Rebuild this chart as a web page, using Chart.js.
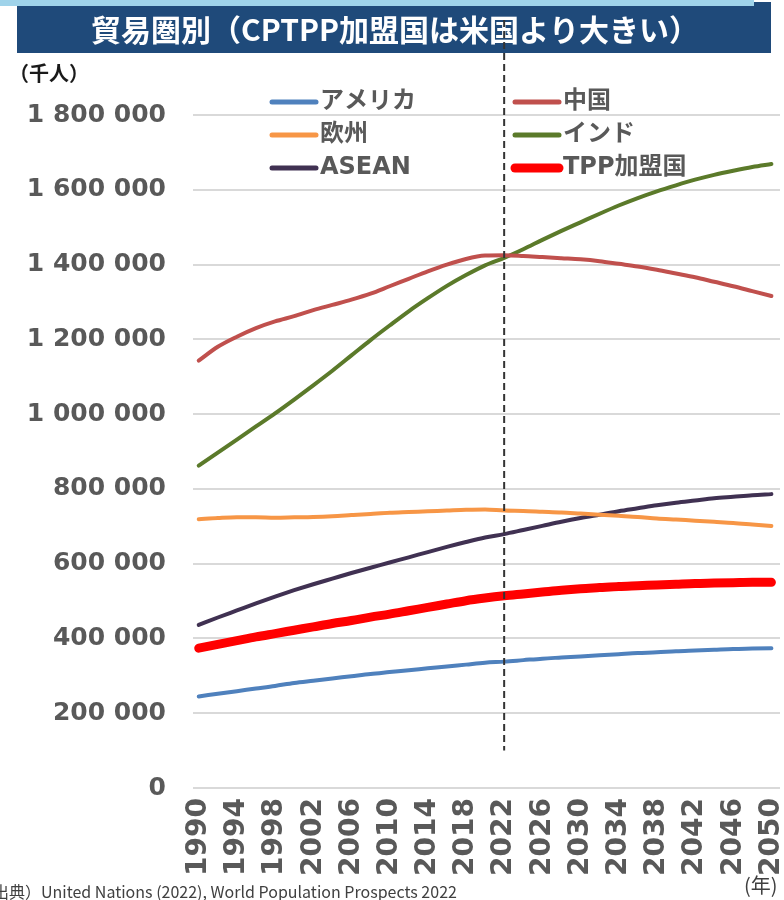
<!DOCTYPE html>
<html lang="ja">
<head>
<meta charset="utf-8">
<script src="https://cdn.jsdelivr.net/npm/chart.js@4"></script>
<style>
  html, body { margin: 0; padding: 0; background: #ffffff; }
  #wrap { width: 784px; height: 900px; position: relative; }
</style>
</head>
<body>
<div id="wrap"><canvas id="c" width="784" height="900"></canvas></div>
<script>
// 人口推計（千人）、2年ごと
const years = [1990, 1992, 1994, 1996, 1998, 2000, 2002, 2004, 2006, 2008,
               2010, 2012, 2014, 2016, 2018, 2020, 2022, 2024, 2026, 2028,
               2030, 2032, 2034, 2036, 2038, 2040, 2042, 2044, 2046, 2048, 2050];

const usa    = [245000, 252000, 259000, 266000, 273000, 281000, 287000, 293000, 299000, 305000,
                310000, 315000, 320000, 325000, 330000, 335000, 338000, 342000, 346000, 349000,
                352000, 355000, 358000, 361000, 363000, 366000, 368000, 370000, 372000, 373000, 374000];
const china  = [1143000, 1180000, 1207000, 1230000, 1248000, 1262000, 1278000, 1292000, 1306000, 1322000,
                1342000, 1362000, 1382000, 1400000, 1415000, 1424000, 1425000, 1423000, 1420000, 1417000,
                1414000, 1409000, 1402000, 1395000, 1386000, 1376000, 1366000, 1354000, 1342000, 1329000, 1316000];
const europe = [719000, 722000, 724000, 724000, 723000, 724000, 725000, 727000, 730000, 733000,
                736000, 738000, 740000, 742000, 744000, 745000, 742000, 741000, 739000, 737000,
                734000, 731000, 728000, 725000, 721000, 718000, 715000, 712000, 709000, 705000, 701000];
const india  = [862000, 897000, 932000, 967000, 1002000, 1039000, 1077000, 1116000, 1157000, 1198000,
                1237000, 1275000, 1310000, 1343000, 1372000, 1398000, 1418000, 1441000, 1466000, 1490000,
                1513000, 1536000, 1558000, 1578000, 1596000, 1612000, 1627000, 1640000, 1651000, 1661000, 1669000];
const asean  = [436000, 456000, 475000, 494000, 512000, 529000, 545000, 560000, 575000, 589000,
                603000, 617000, 631000, 645000, 658000, 670000, 679000, 690000, 701000, 712000,
                722000, 731000, 740000, 748000, 756000, 763000, 769000, 775000, 779000, 783000, 786000];
const tpp    = [374000, 384000, 394000, 404000, 413000, 422000, 431000, 440000, 448000, 457000,
                465000, 474000, 483000, 492000, 501000, 508000, 514000, 519000, 524000, 529000,
                533000, 536000, 539000, 541000, 543000, 545000, 547000, 548000, 549000, 550000, 550000];

const xTickYears = [1990, 1994, 1998, 2002, 2006, 2010, 2014, 2018, 2022, 2026, 2030, 2034, 2038, 2042, 2046, 2050];
const yTickValues = [0, 200000, 400000, 600000, 800000, 1000000, 1200000, 1400000, 1600000, 1800000];

const seriesNames = ['アメリカ', '中国', '欧州', 'インド', 'ASEAN', 'TPP加盟国'];
const seriesColors = ['#4F81BD', '#C0504D', '#F79646', '#5B7A2A', '#403152', '#FF0000'];
const seriesWidths = [4, 4, 4, 4, 4, 9];
const seriesValues = [usa, china, europe, india, asean, tpp];

const titleText = '貿易圏別（CPTPP加盟国は米国より大きい）';
const unitText = '（千人）';
const yearUnitText = '(年)';
const sourceText = '出典）United Nations (2022), World Population Prospects 2022';
const markYear = 2022;
const markBottomValue = 100000;

const NUM_FONT = '"DejaVu Sans", "Noto Sans CJK JP", sans-serif';
const JP_FONT = '"Noto Sans CJK JP", "Noto Sans", sans-serif';

const fmt = v => String(v).replace(/\B(?=(\d{3})+(?!\d))/g, ' ');

// 見出し帯・単位・出典
const framePlugin = {
  id: 'frame',
  beforeDraw(chart) {
    const ctx = chart.ctx;
    ctx.save();
    ctx.fillStyle = '#1F4A7A';
    ctx.fillRect(17, 2, 754, 51);
    ctx.fillStyle = '#9FD3EA';
    ctx.fillRect(0, 0, 754, 6);
    ctx.fillStyle = '#ffffff';
    ctx.font = 'bold 30px ' + JP_FONT;
    ctx.textAlign = 'center';
    ctx.textBaseline = 'middle';
    ctx.fillText(titleText, 395, 30);

    ctx.fillStyle = '#1a1a1a';
    ctx.font = 'bold 20px ' + JP_FONT;
    ctx.textAlign = 'left';
    ctx.fillText(unitText, 9, 73);

    ctx.fillStyle = '#404040';
    ctx.font = '20px ' + JP_FONT;
    ctx.fillText(yearUnitText, 744, 885);

    ctx.font = '16px ' + JP_FONT;
    ctx.textBaseline = 'alphabetic';
    ctx.fillText(sourceText, -7, 898);
    ctx.restore();
  }
};

// 2022年の区切り線
const markPlugin = {
  id: 'mark',
  afterDatasetsDraw(chart) {
    const ctx = chart.ctx;
    const x = chart.scales.x.getPixelForValue(markYear);
    const yb = chart.scales.y.getPixelForValue(markBottomValue);
    ctx.save();
    ctx.strokeStyle = '#333333';
    ctx.lineWidth = 2;
    ctx.setLineDash([7, 4]);
    ctx.beginPath();
    ctx.moveTo(x, 20);
    ctx.lineTo(x, yb);
    ctx.stroke();
    ctx.restore();
  }
};

// 2列の凡例
const legendPlugin = {
  id: 'twoColLegend',
  afterDraw(chart) {
    const ctx = chart.ctx;
    const cols = [272, 515];
    const rows = [100, 133, 166];
    ctx.save();
    ctx.font = 'bold 24px ' + NUM_FONT;
    ctx.textBaseline = 'middle';
    ctx.textAlign = 'left';
    chart.data.datasets.forEach((ds, i) => {
      const cx = cols[i % 2];
      const cy = rows[Math.floor(i / 2)];
      ctx.strokeStyle = ds.borderColor;
      ctx.lineWidth = ds.borderWidth === 9 ? 9 : 5;
      ctx.lineCap = 'round';
      ctx.beginPath();
      ctx.moveTo(cx, cy + 2);
      ctx.lineTo(cx + 44, cy + 2);
      ctx.stroke();
      ctx.fillStyle = '#595959';
      ctx.fillText(ds.label, cx + 48, cy + 2);
    });
    ctx.restore();
  }
};

const datasets = seriesNames.map((name, i) => ({
  label: name,
  data: years.map((yr, j) => ({ x: yr, y: seriesValues[i][j] })),
  borderColor: seriesColors[i],
  backgroundColor: seriesColors[i],
  borderWidth: seriesWidths[i],
  borderCapStyle: 'round',
  borderJoinStyle: 'round',
  pointRadius: 0,
  cubicInterpolationMode: 'monotone',
  fill: false
}));

new Chart(document.getElementById('c'), {
  type: 'line',
  data: { datasets },
  options: {
    responsive: false,
    animation: false,
    layout: { padding: { top: 115, left: 0, right: 4, bottom: 0 } },
    plugins: {
      legend: { display: false },
      title: { display: false },
      tooltip: { enabled: false }
    },
    scales: {
      x: {
        type: 'linear',
        min: 1989.4,
        max: 2050.9,
        grid: { display: false, drawTicks: false },
        border: { display: false },
        afterBuildTicks(s) { s.ticks = xTickYears.map(v => ({ value: v })); },
        afterFit(s) { s.height = 112; s.paddingLeft = 0; s.paddingRight = 0; },
        ticks: {
          autoSkip: false,
          minRotation: 90,
          maxRotation: 90,
          padding: 10,
          color: '#595959',
          font: { family: NUM_FONT, size: 28, weight: 'bold' },
          callback: v => String(v)
        }
      },
      y: {
        min: 0,
        max: 1800000,
        afterBuildTicks(s) { s.ticks = yTickValues.map(v => ({ value: v })); },
        afterFit(s) { s.width = 193; },
        grid: { color: '#D9D9D9', lineWidth: 2, drawTicks: false },
        border: { display: false },
        ticks: {
          padding: 27,
          color: '#595959',
          font: { family: NUM_FONT, size: 25, weight: 'bold' },
          callback: v => fmt(v)
        }
      }
    }
  },
  plugins: [framePlugin, markPlugin, legendPlugin]
});
</script>
</body>
</html>
